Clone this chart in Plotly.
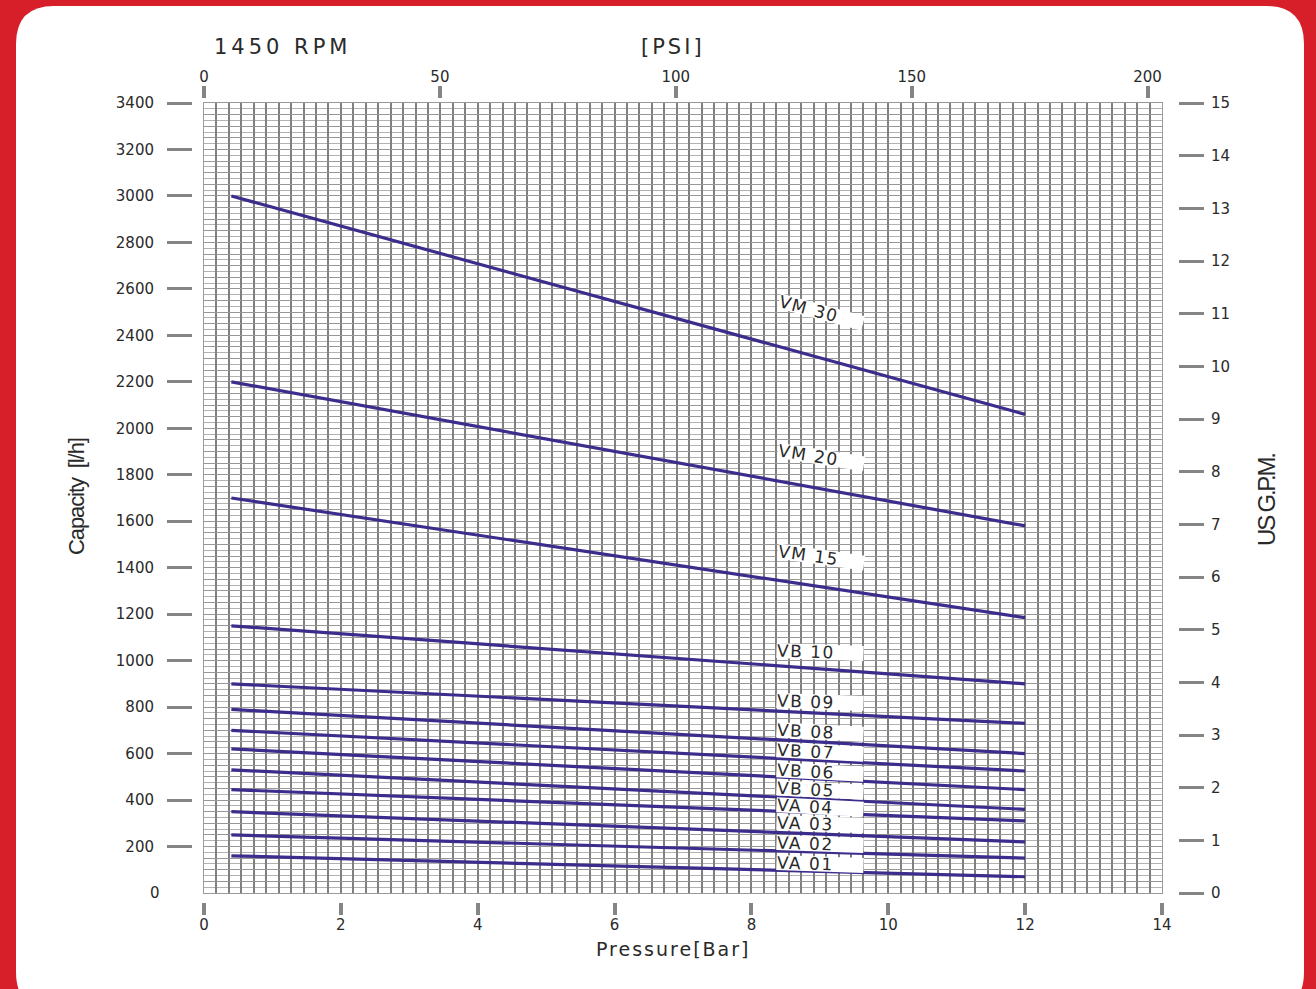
import plotly.graph_objects as go

# ---------------- data ----------------
models = ["VM 30", "VM 20", "VM 15", "VB 10", "VB 09", "VB 08", "VB 07",
          "VB 06", "VB 05", "VA 04", "VA 03", "VA 02", "VA 01"]
pressure_bar = [0.4, 12]
capacity_start = [3000, 2200, 1700, 1150, 900, 790, 700, 620, 530, 445, 350, 250, 160]
capacity_end = [2060, 1580, 1185, 900, 730, 600, 525, 445, 360, 310, 220, 150, 70]

bar_ticks = [0, 2, 4, 6, 8, 10, 12, 14]
psi_ticks = [0, 50, 100, 150, 200]
lh_ticks = [200, 400, 600, 800, 1000, 1200, 1400, 1600, 1800, 2000,
            2200, 2400, 2600, 2800, 3000, 3200, 3400]
gpm_ticks = list(range(0, 16))

# ---------------- layout helpers ----------------
W, H = 1316, 989
ML, MR, MT, MB = 100, 100, 40, 40
PW, PH = W - ML - MR, H - MT - MB


def px(x):
    return (x - ML) / PW


def py(y):
    return (H - MB - y) / PH


BAR_MAX = 14
LH_MAX = 3400
PSI_PER_BAR = 14.5038
GPM_MAX = 15

line_color = "#3b2d8c"
tick_color = "#858585"
txt_color = "#2a2a2a"
FONT = "DejaVu Sans, Verdana, sans-serif"
ARIAL = "Liberation Sans, Arial, sans-serif"

fig = go.Figure()

for i, m in enumerate(models):
    fig.add_trace(go.Scatter(
        x=pressure_bar, y=[capacity_start[i], capacity_end[i]],
        mode="lines", name=m, line=dict(color=line_color, width=3.2),
        showlegend=False, hoverinfo="skip"))

# dummy traces to activate overlay axes
fig.add_trace(go.Scatter(x=[None], y=[None], xaxis="x2", yaxis="y", showlegend=False))
fig.add_trace(go.Scatter(x=[None], y=[None], xaxis="x3", yaxis="y", showlegend=False))
fig.add_trace(go.Scatter(x=[None], y=[None], xaxis="x", yaxis="y2", showlegend=False))
fig.add_trace(go.Scatter(x=[None], y=[None], xaxis="x", yaxis="y3", showlegend=False))

xdom = [px(204), px(1162)]
ydom = [py(893), py(103)]

tickfont = dict(family=FONT, size=15, color=txt_color)

fig.update_layout(
    width=W, height=H,
    margin=dict(l=ML, r=MR, t=MT, b=MB),
    paper_bgcolor="#d71f29",
    plot_bgcolor="white",
    showlegend=False,
    xaxis=dict(domain=xdom, range=[0, BAR_MAX], showticklabels=False, ticks="",
               showgrid=True, dtick=BAR_MAX / 77, tick0=0, gridcolor="#808080", gridwidth=1.8,
               zeroline=False, showline=True, linecolor="#9a9a9a", linewidth=1, mirror=True,
               anchor="y", automargin=False),
    yaxis=dict(domain=ydom, range=[0, LH_MAX], showticklabels=False, ticks="",
               showgrid=True, dtick=50, tick0=0, gridcolor="#979797", gridwidth=1.3,
               minor=dict(dtick=25, showgrid=True, gridcolor="#b2b2b2", gridwidth=1),
               zeroline=False, showline=True, linecolor="#9a9a9a", linewidth=1, mirror=True,
               anchor="x", automargin=False),
    # bottom bar axis
    xaxis2=dict(overlaying="x", anchor="free", position=py(902), side="bottom",
                range=[0, BAR_MAX], tickvals=bar_ticks, ticks="outside", ticklen=12,
                tickwidth=4, tickcolor=tick_color, tickfont=tickfont, ticklabelstandoff=-3,
                showgrid=False, zeroline=False, showline=False, automargin=False),
    # top psi axis
    xaxis3=dict(overlaying="x", anchor="free", position=py(98), side="top",
                range=[0, BAR_MAX * PSI_PER_BAR], tickvals=psi_ticks, ticks="outside",
                ticklen=12, tickwidth=4, tickcolor=tick_color, tickfont=tickfont,
                ticklabelstandoff=-2,
                showgrid=False, zeroline=False, showline=False, automargin=False),
    # left l/h axis
    yaxis2=dict(overlaying="y", anchor="free", position=px(192), side="left",
                range=[0, LH_MAX], tickvals=lh_ticks, ticks="outside", ticklen=25,
                tickwidth=3, tickcolor=tick_color, tickfont=tickfont, ticklabelstandoff=10,
                showgrid=False, zeroline=False, showline=False, automargin=False),
    # right gpm axis
    yaxis3=dict(overlaying="y", anchor="free", position=px(1178), side="right",
                range=[0, GPM_MAX], tickvals=gpm_ticks, ticks="outside",
                ticklen=25, tickwidth=3, tickcolor=tick_color, tickfont=tickfont,
                ticklabelstandoff=4,
                showgrid=False, zeroline=False, showline=False, automargin=False),
)

# white rounded panel
x0, x1 = px(16), px(1304)
y0, y1 = py(1010), py(6)
rx, ry = 38 / PW, 38 / PH
path = (f"M {x0 + rx},{y1} L {x1 - rx},{y1} Q {x1},{y1} {x1},{y1 - ry} "
        f"L {x1},{y0 + ry} Q {x1},{y0} {x1 - rx},{y0} L {x0 + rx},{y0} "
        f"Q {x0},{y0} {x0},{y0 + ry} L {x0},{y1 - ry} Q {x0},{y1} {x0 + rx},{y1} Z")
fig.add_shape(type="path", path=path, xref="paper", yref="paper",
              fillcolor="white", line=dict(width=0), layer="below")


def spaced(t, sp):
    return f'<span style="letter-spacing:{sp}px">{t}</span>'


# titles
fig.add_annotation(text=spaced("1450 RPM", 4), xref="paper", yref="paper", x=px(212), y=py(47),
                   xanchor="left", yanchor="middle", showarrow=False,
                   font=dict(family=FONT, size=21, color=txt_color))
fig.add_annotation(text=spaced("[PSI]", 3), xref="paper", yref="paper", x=px(673), y=py(47),
                   xanchor="center", yanchor="middle", showarrow=False,
                   font=dict(family=FONT, size=21, color=txt_color))
fig.add_annotation(text=spaced("Pressure[Bar]", 2), xref="paper", yref="paper", x=px(673),
                   y=py(949), xanchor="center", yanchor="middle", showarrow=False,
                   font=dict(family=FONT, size=19, color=txt_color))
fig.add_annotation(text=spaced("Capacity  [l/h]", -1.1), xref="paper", yref="paper",
                   x=px(76), y=py(497), xanchor="center", yanchor="middle",
                   showarrow=False, textangle=-90,
                   font=dict(family=ARIAL, size=22, color=txt_color))
fig.add_annotation(text=spaced("US G.P.M.", -2.2), xref="paper", yref="paper",
                   x=px(1266), y=py(500), xanchor="center", yanchor="middle",
                   showarrow=False, textangle=-90,
                   font=dict(family=ARIAL, size=24, color=txt_color))
fig.add_annotation(text="0", xref="paper", yref="y", x=px(162), y=0,
                   xanchor="right", yanchor="middle", showarrow=False, font=tickfont)

# model labels
label_y = [2500, 1876, 1446, 1037, 822, 693, 607, 520, 443, 370, 297, 211, 125]
label_angle = [15, 9, 8, 2, 2, 3, 3, 3, 3, 3, 2, 2, 2]
label_x = (776 - 204) / (1162 - 204) * BAR_MAX
for m, yv, ang in zip(models, label_y, label_angle):
    fig.add_annotation(text=spaced(m, 1.5), x=label_x, y=yv, xref="x", yref="y",
                       xanchor="left", yanchor="middle", showarrow=False,
                       textangle=ang, bgcolor="white", borderpad=0,
                       width=86, height=14, align="left",
                       font=dict(family=FONT, size=17, color=txt_color))

fig.write_html("out.html", config={"displayModeBar": False},
               post_script="document.body.style.margin='0';document.body.style.overflow='hidden';")
